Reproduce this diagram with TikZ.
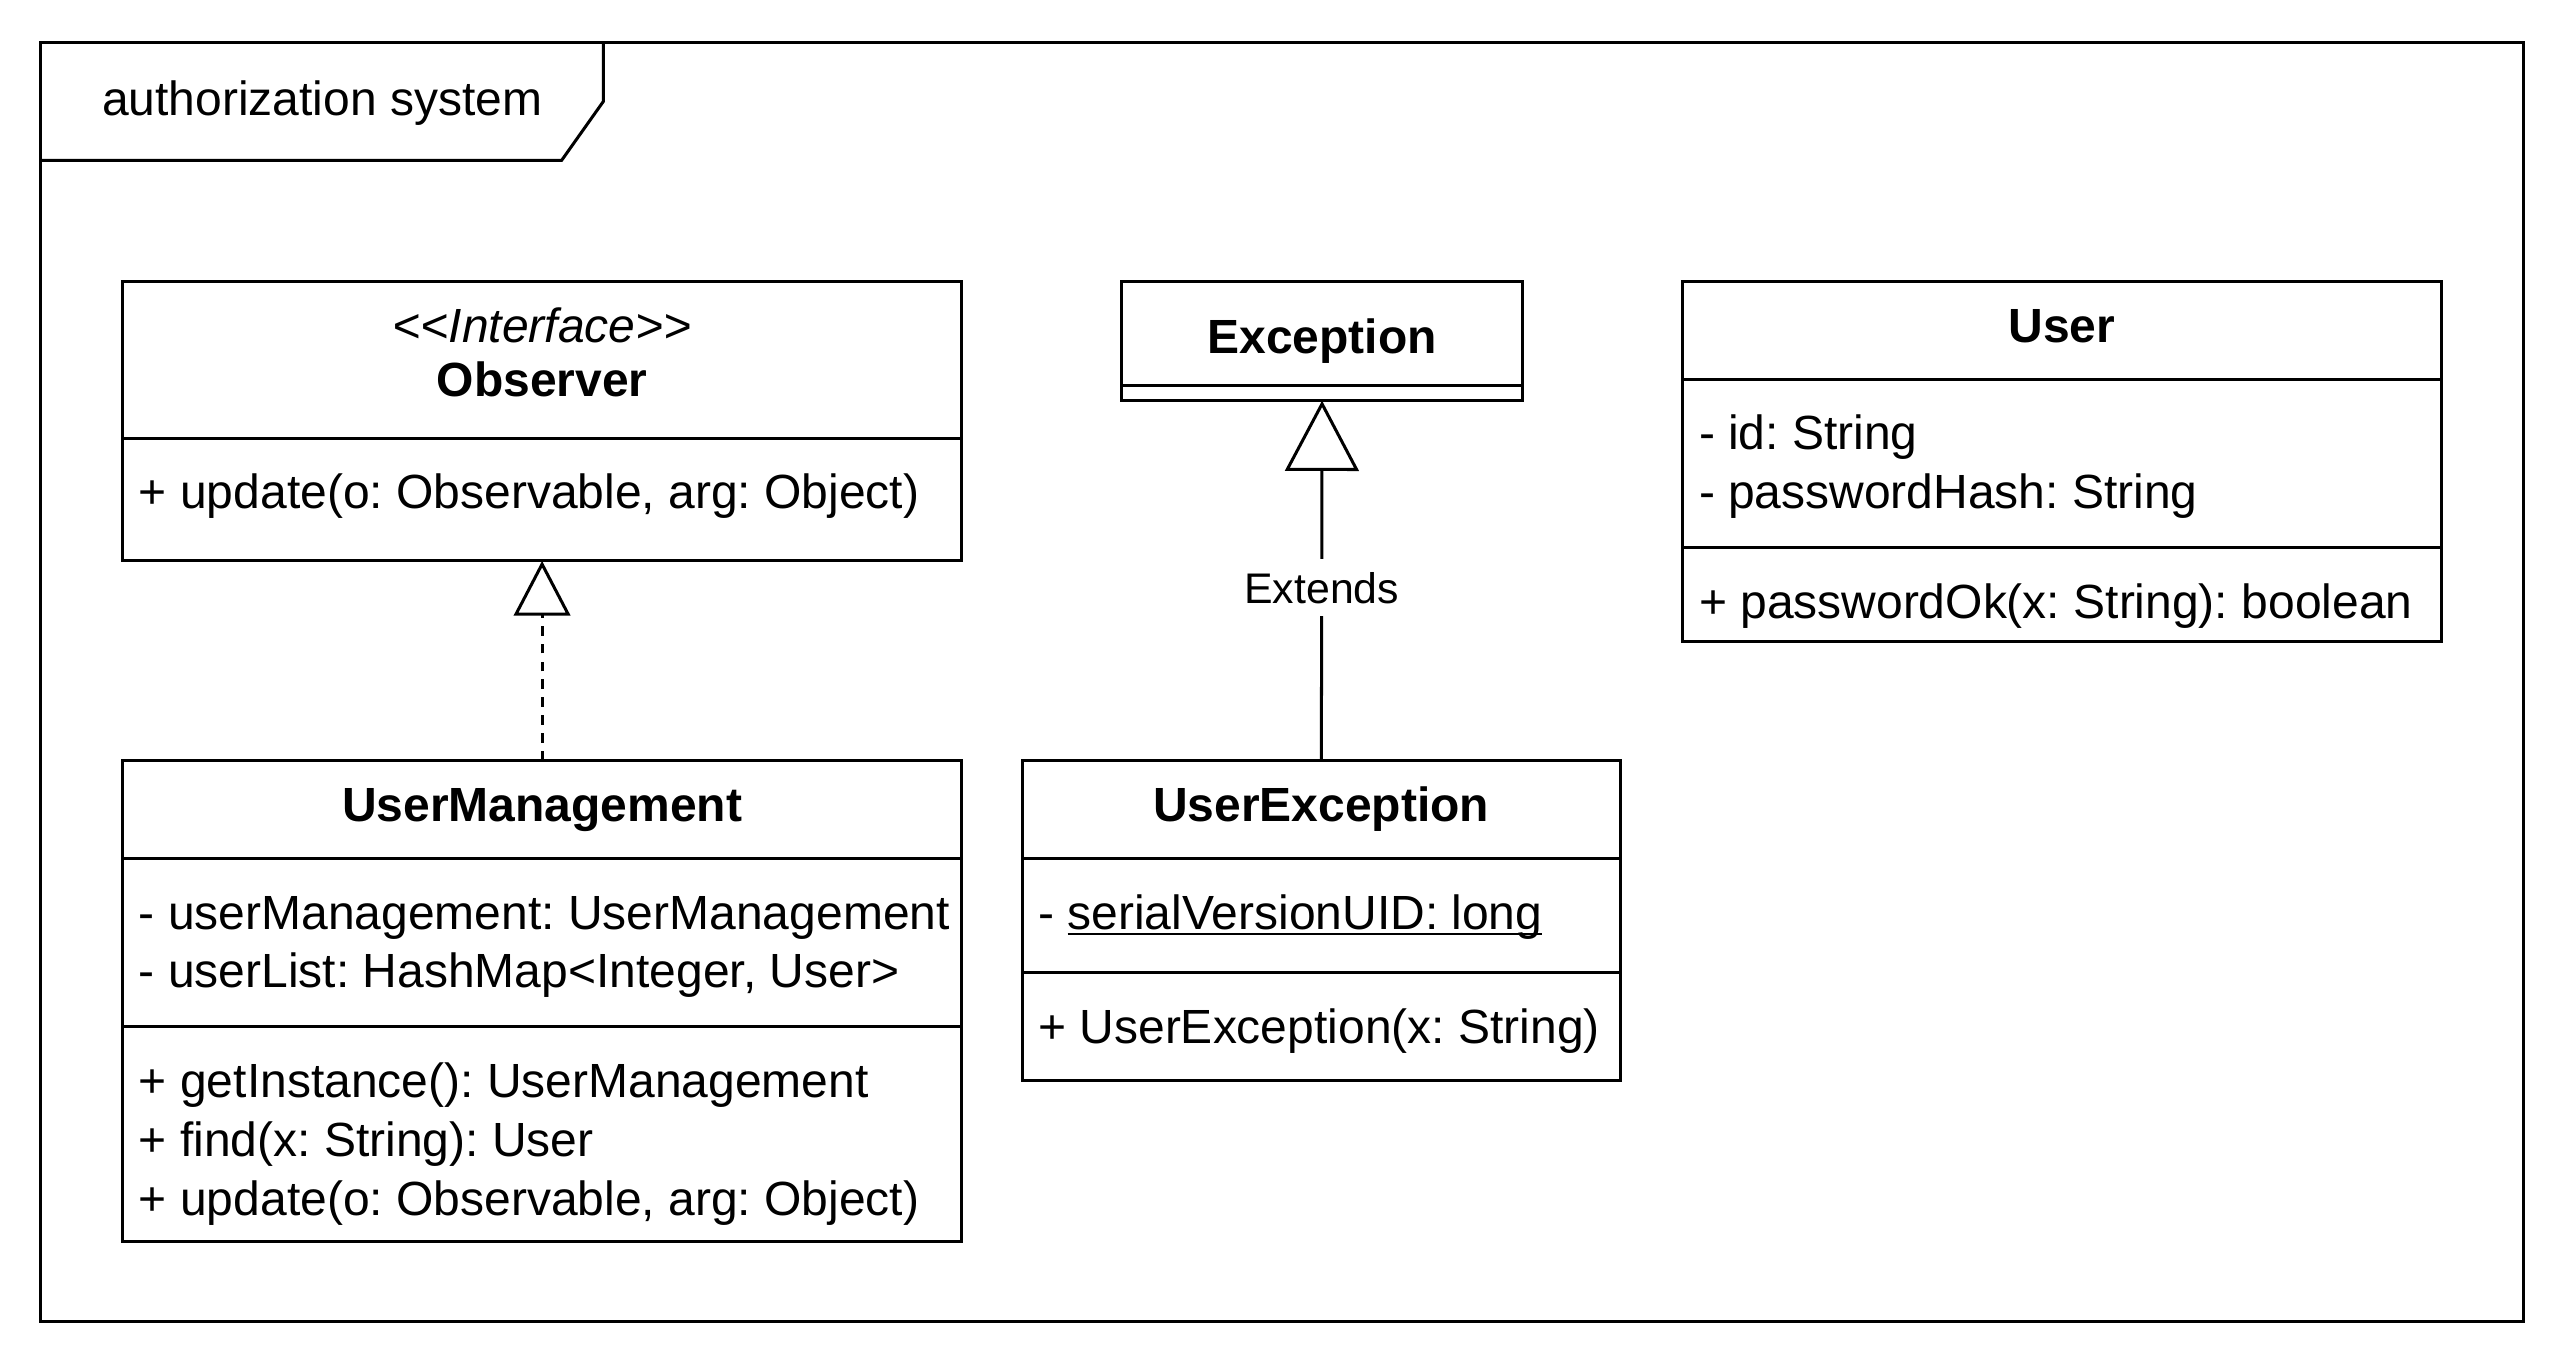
\documentclass[tikz,border=0pt]{standalone}
\usepackage{fontspec}
\setmainfont{Liberation Sans}
\usetikzlibrary{positioning,arrows.meta}
\newcommand\umlfont{\fontsize{16.7}{20.5}\selectfont\frenchspacing\hyphenpenalty=10000 }
\newcommand\ulstatic[1]{\setbox0\hbox{#1}\rlap{\rule[-2.2pt]{\wd0}{0.9pt}}\box0}
\newcommand\compart[4][10.2pt]{\parbox[c][#2][t]{#3}{\raggedright\vspace*{#1}\strut#4}}
\newcommand\comphead[4][6.9pt]{\parbox[c][#2][t]{#3}{\centering\vspace*{#1}\strut#4}}
\begin{document}
\begin{tikzpicture}[x=1cm,y=-1cm,line width=1.05pt]
            \tikzset{classhead/.style = {draw,outer sep=0pt,inner xsep=0.2cm,inner ysep=0pt,font=\umlfont\bfseries}}
            \tikzset{classbody/.style = {draw,outer sep=0pt,inner xsep=0.2cm,inner ysep=0pt,font=\umlfont}}
            \tikzset{realize/.style = {dash pattern=on 3.4pt off 2.8pt,-{Triangle[open,length=0.67cm,width=0.69cm]}}}
            \tikzset{extends/.style = {-{Triangle[open,length=0.86cm,width=0.9cm]}}}
            \tikzset{edgelabel/.style = {fill=white,inner xsep=2pt,inner ysep=4.5pt,font=\fontsize{14.9}{17}\selectfont}}
            \useasboundingbox (0,0) rectangle (31.36,16.68);
            \draw (0.5,0.52) rectangle (30.86,16.16);
            \draw (0.5,1.96) -- (6.87,1.96) -- (7.38,1.24) -- (7.38,0.52);
            \node[anchor=base,font=\umlfont] (frameTitle) at (3.94,1.41) {authorization system};
            \node[classhead,anchor=north west] (obsHead) at (1.5,3.44) {\comphead[7.1pt]{1.92cm}{9.86cm}{{\mdseries\itshape <\kern0pt<Interface>\kern0pt>}\\[-1.8pt]Observer}};
            \node[classbody,below=0pt of obsHead] (obsOps) {\compart{1.5cm}{9.86cm}{+ update(o: Observable, arg: Object)}};
            \node[classhead,anchor=north west] (umHead) at (1.5,9.3) {\comphead{1.2cm}{9.86cm}{UserManagement}};
            \node[classbody,below=0pt of umHead] (umAttr) {\compart{2.06cm}{9.86cm}{\mbox{- userManagement: UserManagement}\\- userList: HashMap<Integer, User>}};
            \node[classbody,below=0pt of umAttr] (umOps) {\compart{2.62cm}{9.86cm}{+ getInstance(): UserManagement\\+ find(x: String): User\\+ update(o: Observable, arg: Object)}};
            \node[classhead,anchor=north west] (excHead) at (13.72,3.44) {\comphead[10.9pt]{1.28cm}{4.5cm}{Exception}};
            \node[classbody,minimum width=4.9cm,minimum height=0.18cm,below=0pt of excHead] (excOps) {};
            \node[classhead,anchor=north west] (uexHead) at (12.5,9.3) {\comphead{1.2cm}{6.92cm}{UserException}};
            \node[classbody,below=0pt of uexHead] (uexAttr) {\compart{1.4cm}{6.92cm}{- \ulstatic{serialVersionUID: long}}};
            \node[classbody,below=0pt of uexAttr] (uexOps) {\compart{1.32cm}{6.92cm}{+ UserException(x: String)}};
            \node[classhead,anchor=north west] (usrHead) at (20.58,3.44) {\comphead{1.2cm}{8.88cm}{User}};
            \node[classbody,below=0pt of usrHead] (usrAttr) {\compart{2.06cm}{8.88cm}{- id: String\\- passwordHash: String}};
            \node[classbody,below=0pt of usrAttr] (usrOps) {\compart{1.14cm}{8.88cm}{+ passwordOk(x: String): boolean}};
            \draw[realize] (umHead) -- (obsOps);
            \draw[extends] (uexHead) -- node[edgelabel,pos=0.48] (extLabel) {Extends} (excOps);
        \end{tikzpicture}
\end{document}
